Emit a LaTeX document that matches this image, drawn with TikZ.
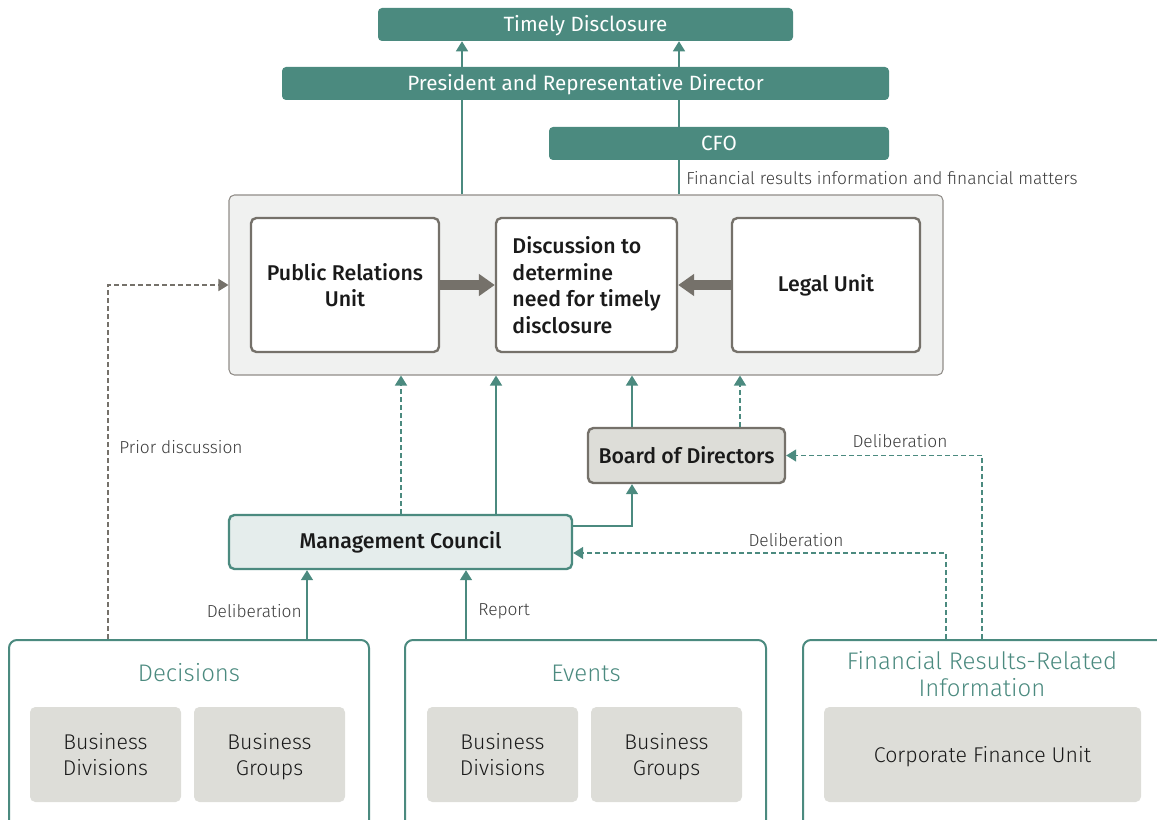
\documentclass[tikz,border=0pt]{standalone}
\usepackage{fontspec}
\setmainfont{Fira Sans}[UprightFont={* Light},BoldFont={* Medium}]
\newfontfamily\headfont{Fira Sans}
\newcommand\toppad{\rule{0pt}{18pt}}
\usetikzlibrary{arrows.meta}
\definecolor{teal}{HTML}{4B8A7F}
\definecolor{mcfill}{HTML}{E5EDEC}
\definecolor{stone}{HTML}{75716A}
\definecolor{stonefill}{HTML}{DDDDD8}
\definecolor{panel}{HTML}{F0F1F0}
\definecolor{ink}{HTML}{1A1A1A}
\begin{document}
\begin{tikzpicture}[x=0.75pt,y=-0.75pt,
  head/.style={fill=teal,text=white,rounded corners=3pt,font=\headfont\fontsize{15.5}{18}\selectfont,minimum height=24.75pt,inner sep=0pt,text height=10.7pt,text depth=0pt},
  unitbox/.style={draw=stone,fill=white,line width=1.8pt,rounded corners=4pt,font=\bfseries\fontsize{16}{20}\selectfont,text=ink,minimum height=100.5pt,inner sep=0pt,align=center},
  groupbox/.style={draw=teal,line width=1.5pt,rounded corners=6pt,minimum height=142.5pt,inner sep=0pt},
  grouptitle/.style={text=teal,font=\fontsize{18}{20}\selectfont,align=center,inner sep=0pt},
  partbox/.style={fill=stonefill,rounded corners=4pt,minimum width=113.25pt,minimum height=71.25pt,font=\fontsize{16}{20}\selectfont,text=ink,align=center,inner sep=0pt},
  lbl/.style={font=\fontsize{13}{15}\selectfont,text=ink!85,inner sep=0pt},
  tline/.style={draw=teal,line width=1.1pt},
  tarr/.style={tline,-{Triangle[length=7.5pt,width=9pt]}},
  garr/.style={draw=stone,line width=1.1pt,-{Triangle[length=7.5pt,width=9pt]}},
  bigarr/.style={draw=stone,line width=7.5pt,-{Triangle[length=12pt,width=16pt]}},
  dashed/.style={dash pattern=on 3.5pt off 2.5pt}]
\useasboundingbox (0,0) rectangle (1157,820);
\clip (0,0) rectangle (1157,820);
% top of the chain
\node[head,minimum width=311.25pt] (td) at (585.5,24.5) {Timely Disclosure};
\node[head,minimum width=455.25pt] (pres) at (585.5,83.5) {President and Representative Director};
\node[head,minimum width=255pt] (cfo) at (719,143.5) {CFO};
\node[lbl,anchor=west] (finmat) at (686,178) {Financial results information and financial matters};
% discussion panel
\node[draw=stone!80,fill=panel,line width=0.8pt,rounded corners=4pt,minimum width=535.5pt,minimum height=135pt] (cont) at (586,285) {};
\node[unitbox,minimum width=141pt] (pr) at (345,285) {Public Relations\\Unit};
\node[unitbox,minimum width=135.75pt,align=left] (disc) at (586.5,285) {Discussion to\\determine\\need for timely\\disclosure};
\node[unitbox,minimum width=141pt] (legal) at (826,285) {Legal Unit};
% councils
\node[draw=stone,fill=stonefill,line width=1.8pt,rounded corners=4pt,minimum width=147.75pt,minimum height=41.25pt,font=\bfseries\fontsize{16}{19}\selectfont,text=ink] (board) at (686.5,455.5) {Board of Directors};
\node[draw=teal,fill=mcfill,line width=1.8pt,rounded corners=4pt,minimum width=257.25pt,minimum height=40.5pt,font=\bfseries\fontsize{16}{19}\selectfont,text=ink] (mc) at (400.5,542) {Management Council};
% sources
\node[groupbox,minimum width=270pt] (dec) at (189,735) {};
\node[groupbox,minimum width=270.75pt] (ev) at (585.5,735) {};
\node[groupbox,minimum width=275.25pt] (fin) at (986.5,735) {};
\node[grouptitle] (dect) at (189,673) {Decisions};
\node[grouptitle] (evt) at (586,673) {Events};
\node[grouptitle] (fint) at (982,674) {Financial Results-Related\\Information};
\node[partbox] (bd1) at (105.5,754.5) {\toppad Business\\Divisions\strut};
\node[partbox] (bg1) at (269.5,754.5) {\toppad Business\\Groups\strut};
\node[partbox] (bd2) at (502.5,754.5) {\toppad Business\\Divisions\strut};
\node[partbox] (bg2) at (666.5,754.5) {\toppad Business\\Groups\strut};
\node[partbox,minimum width=237.75pt] (cfu) at (982.5,754.5) {\toppad Corporate Finance Unit\strut};
% labels
\node[lbl,anchor=west] (prior) at (119,447) {Prior discussion};
\node[lbl,anchor=east] (delib1) at (302,611) {Deliberation};
\node[lbl,anchor=west] (rep) at (478,611) {Report};
\node[lbl] (delib2) at (796,540) {Deliberation};
\node[lbl] (delib3) at (900,441) {Deliberation};
% connectors
\draw[tline] (462,0 |- cont.north) -- (462,0 |- pres.south);
\draw[tarr] (462,0 |- pres.north) -- (462,0 |- td.south);
\draw[tline] (679,0 |- cont.north) -- (679,0 |- cfo.south);
\draw[tline] (679,0 |- cfo.north) -- (679,0 |- pres.south);
\draw[tarr] (679,0 |- pres.north) -- (679,0 |- td.south);
\draw[bigarr] (pr.east) -- (disc.west);
\draw[bigarr] (legal.west) -- (disc.east);
\draw[tarr,dashed] (401,0 |- mc.north) -- (401,0 |- cont.south);
\draw[tarr] (496,0 |- mc.north) -- (496,0 |- cont.south);
\draw[tarr] (632,0 |- board.north) -- (632,0 |- cont.south);
\draw[tarr,dashed] (740,0 |- board.north) -- (740,0 |- cont.south);
\draw[tarr] (mc.east |- 0,526) -| (632,0 |- board.south);
\draw[tarr,dashed] (946,0 |- fin.north) |- (mc.east |- 0,553);
\draw[tarr,dashed] (982,0 |- fin.north) |- (board.east);
\draw[garr,dashed] (108,0 |- dec.north) |- (cont.west);
\draw[tarr] (307,0 |- dec.north) -- (307,0 |- mc.south);
\draw[tarr] (466,0 |- ev.north) -- (466,0 |- mc.south);
\end{tikzpicture}
\end{document}
